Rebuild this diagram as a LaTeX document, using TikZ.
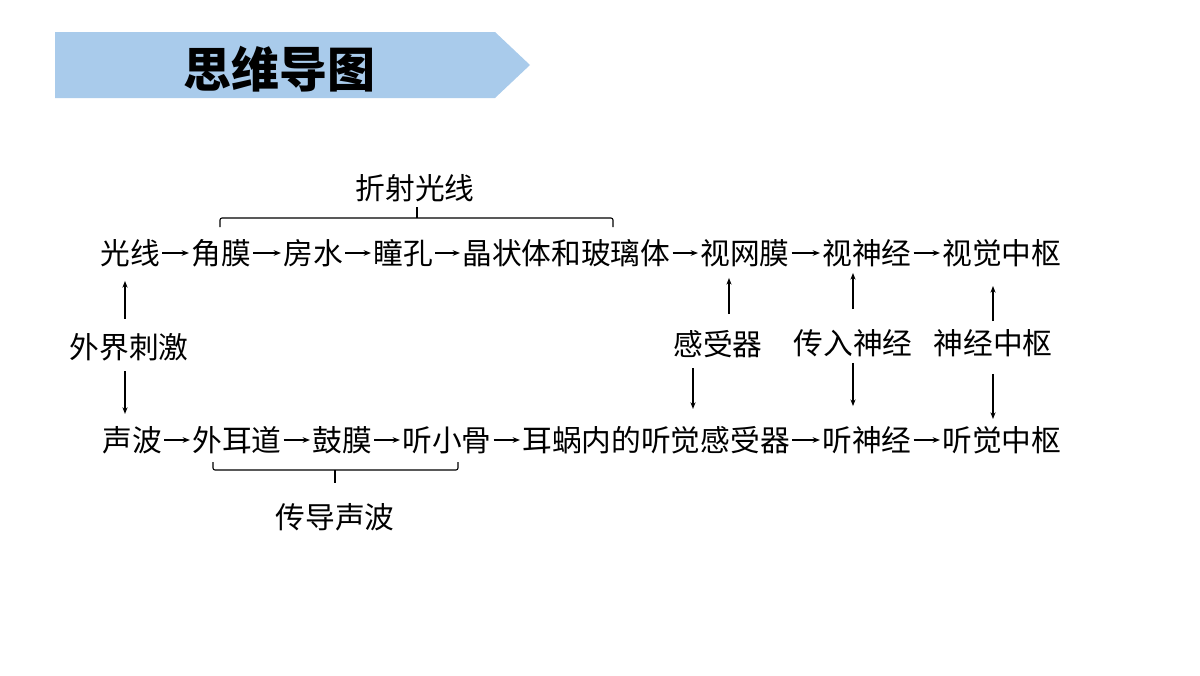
\documentclass[tikz,border=0pt]{standalone}
\usepackage{fontspec}
\setmainfont{Noto Sans CJK SC}
\usetikzlibrary{arrows.meta,calc}
\definecolor{banner}{RGB}{169,203,235}
\begin{document}
\begin{tikzpicture}[x=0.75pt,y=-0.75pt,
  lbl/.style={inner sep=0pt, font=\fontsize{22.3pt}{26pt}\selectfont},
  wl/.style={lbl, anchor=west},
  harrow/.style={-{Stealth[length=5.5pt,width=4.2pt]}, line width=0.9pt,
                 shorten <=1.5pt, shorten >=1.5pt},
  varrow/.style={-{Stealth[length=5pt,width=3.8pt]}, line width=0.8pt},
  bracket/.style={line width=0.8pt, rounded corners=1.5pt},
  tick/.style={line width=0.8pt}]
\useasboundingbox (0,0) rectangle (1200,675);
% title banner
\fill[banner] (55,32) -- (495,32) -- (530,65) -- (495,98) -- (55,98) -- cycle;
\node[inner sep=0pt, font=\fontsize{36pt}{40pt}\selectfont\bfseries] (title) at (279,69) {思维导图};
% top row
\node[wl] (gx)  at (100,253) {光线};
\node[wl] (jm)  at (191,253) {角膜};
\node[wl] (fs)  at (283,253) {房水};
\node[wl] (tk)  at (373,253) {瞳孔};
\node[wl] (jz)  at (462,253) {晶状体和玻璃体};
\node[wl] (swm) at (700,253) {视网膜};
\node[wl] (ssj) at (822,253) {视神经};
\node[wl] (sjz) at (942,253) {视觉中枢};
% bottom row
\node[wl] (sb)  at (102,440) {声波};
\node[wl] (wed) at (192,440) {外耳道};
\node[wl] (gm)  at (312,440) {鼓膜};
\node[wl] (txg) at (402,440) {听小骨};
\node[wl] (ew)  at (522,440) {耳蜗内的听觉感受器};
\node[wl] (tsj) at (822,440) {听神经};
\node[wl] (tjz) at (942,440) {听觉中枢};
% middle labels
\node[lbl] (wj)   at (129,347) {外界刺激};
\node[lbl] (gsq)  at (718,344) {感受器};
\node[lbl] (crsj) at (853,343) {传入神经};
\node[lbl] (sjzs) at (993,343) {神经中枢};
% brace labels
\node[lbl] (zs) at (415,188) {折射光线};
\node[lbl] (cd) at (335,517) {传导声波};
% horizontal arrows
\foreach \a/\b in {gx/jm,jm/fs,fs/tk,tk/jz,jz/swm,swm/ssj,ssj/sjz,
                   sb/wed,wed/gm,gm/txg,txg/ew,ew/tsj,tsj/tjz}
  \draw[harrow] (\a.east) -- (\a.east -| \b.west);
% vertical arrows
\draw[varrow] ($(wj.north)+(-4,-14)$) -- ($(wj.north|-gx.south)+(-4,14)$);
\draw[varrow] ($(wj.south)+(-4,10)$) -- ($(wj.south|-sb.north)+(-4,-12)$);
\draw[varrow] ($(gsq.north)+(11,-16)$) -- ($(gsq.north|-swm.south)+(11,11)$);
\draw[varrow] ($(gsq.south)+(-25,10)$) -- ($(gsq.south|-ew.north)+(-25,-17)$);
\draw[varrow] ($(crsj.north)+(0,-20)$) -- ($(crsj.north|-ssj.south)+(0,6)$);
\draw[varrow] ($(crsj.south)+(0,6)$) -- ($(crsj.south|-tsj.north)+(0,-20)$);
\draw[varrow] ($(sjzs.north)+(0,-8)$) -- ($(sjzs.north|-sjz.south)+(0,19)$);
\draw[varrow] ($(sjzs.south)+(0,17)$) -- ($(sjzs.south|-tjz.north)+(0,-7)$);
% brackets
\draw[bracket] (220,227) -- (220,218) -- (613,218) -- (613,227);
\draw[tick] (417,218) -- (417,207);
\draw[bracket] (213,462) -- (213,470) -- (458,470) -- (458,462);
\draw[tick] (335,470) -- (335,483);
\end{tikzpicture}
\end{document}
